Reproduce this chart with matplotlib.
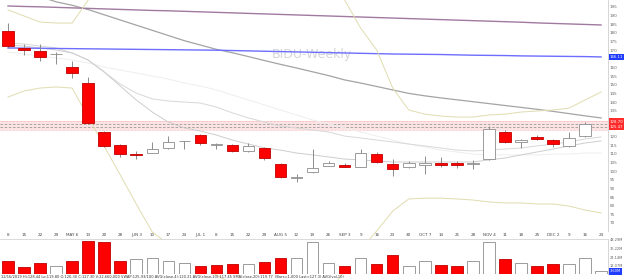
import matplotlib
matplotlib.use("Agg")
import matplotlib.pyplot as plt
from matplotlib.transforms import blended_transform_factory
import numpy as np

# weekly bars, Apr 8 2019 .. Dec 16 2019
dates = ["8", "15", "22", "29", "MAY 6", "13", "20", "28", "JUN 3", "10", "17", "24",
         "JUL 1", "8", "15", "22", "29", "AUG 5", "12", "19", "26", "SEP 3", "9", "16",
         "23", "30", "OCT 7", "14", "21", "28", "NOV 4", "11", "18", "25", "DEC 2", "9",
         "16", "23"]
opens = [181.1, 171.3, 169.5, 167.6, 160.3, 151.0, 122.7, 115.1, 109.6, 110.5, 113.4, 117.2,
         120.9, 115.1, 115.1, 111.7, 113.4, 104.1, 96.0, 99.5, 103.0, 103.6, 102.4, 109.9,
         104.1, 102.4, 103.6, 104.7, 104.7, 104.1, 107.0, 122.7, 116.9, 119.8, 118.0, 114.6,
         120.3]
highs = [185.7, 173.6, 173.6, 169.0, 163.8, 154.5, 123.2, 115.5, 111.7, 116.9, 120.4, 117.6,
         121.4, 116.3, 115.6, 116.3, 113.9, 104.6, 98.4, 112.8, 105.9, 104.7, 112.8, 111.1,
         107.0, 105.9, 108.8, 108.2, 105.9, 106.5, 126.1, 123.8, 118.4, 120.9, 118.6, 122.7,
         128.4]
lows = [171.5, 167.2, 163.8, 162.0, 153.9, 127.5, 114.0, 108.2, 107.0, 110.3, 112.8, 112.8,
        115.1, 112.8, 111.2, 111.2, 106.5, 96.0, 93.7, 99.2, 102.7, 102.2, 102.2, 104.7,
        97.2, 101.8, 98.4, 102.4, 101.8, 101.2, 106.5, 116.3, 113.4, 118.0, 114.0, 114.0,
        119.8]
closes = [172.4, 170.2, 166.1, 167.8, 156.8, 127.9, 114.6, 109.9, 109.4, 112.8, 116.9, 117.5,
          116.3, 115.3, 111.7, 114.6, 107.6, 96.6, 96.2, 101.8, 104.7, 102.4, 110.5, 105.3,
          101.2, 104.7, 104.7, 103.6, 103.6, 104.7, 124.4, 116.9, 118.0, 118.6, 115.7, 119.2,
          127.3]
volume_m = [18.5, 9.9, 15.6, 11.4, 18.5, 46.9, 45.4, 18.5, 21.3, 22.7, 18.5, 15.6, 11.4,
            12.8, 14.2, 14.2, 17.0, 22.7, 22.7, 45.4, 15.6, 11.4, 22.7, 14.2, 27.0, 11.4,
            18.5, 12.8, 11.4, 18.5, 45.4, 21.3, 15.6, 11.4, 14.2, 14.2, 22.7, 3.6]
volume_up = [False, False, False, True, False, False, False, False, True, True, True, True,
             False, False, False, True, False, False, True, True, True, False, True, False,
             False, True, True, False, False, True, True, False, True, False, False, True,
             True, True]

# overlays (one value per week, incl. Dec 23)
ma_long1 = [195.6, 195.3, 195.1, 194.8, 194.5, 194.2, 193.9, 193.6, 193.3, 193.0, 192.8, 192.5,
            192.2, 191.9, 191.6, 191.3, 191.0, 190.7, 190.4, 190.1, 189.8, 189.5, 189.2, 188.9,
            188.6, 188.3, 188.0, 187.7, 187.4, 187.1, 186.8, 186.5, 186.2, 185.8, 185.5, 185.2,
            184.9, 184.6]
ma_long2 = [171.3, 171.2, 171.1, 171.0, 170.9, 170.8, 170.7, 170.6, 170.5, 170.4, 170.3, 170.2,
            170.1, 170.0, 169.8, 169.6, 169.4, 169.2, 169.0, 168.8, 168.6, 168.4, 168.2, 168.0,
            167.8, 167.7, 167.6, 167.5, 167.3, 167.1, 167.0, 166.9, 166.7, 166.6, 166.5, 166.4,
            166.3, 166.1]
ma_52 = [210.0, 206.0, 201.0, 198.0, 196.0, 193.5, 190.5, 187.5, 184.5, 181.5, 178.5, 175.5,
         173.0, 170.5, 168.5, 166.3, 164.0, 161.8, 159.7, 157.5, 155.3, 152.8, 151.0, 149.0,
         147.0, 145.0, 143.6, 142.4, 141.3, 140.2, 139.1, 138.0, 136.9, 135.8, 134.6, 133.3,
         132.0, 130.8]
ma_fast = [173.0, 172.4, 171.3, 170.1, 168.4, 164.3, 157.4, 149.3, 141.2, 134.2, 128.4, 125.0,
           123.2, 120.9, 118.0, 115.7, 113.4, 112.2, 110.5, 109.4, 108.2, 107.0, 106.5, 105.9,
           105.3, 105.3, 105.3, 105.3, 105.3, 105.3, 106.5, 107.6, 109.4, 111.1, 112.8, 114.6,
           116.3, 117.5]
ma_mid = [174.2, 173.6, 172.4, 171.3, 168.4, 164.3, 157.4, 150.4, 145.2, 141.8, 140.6, 140.0,
          139.4, 137.1, 133.7, 130.8, 128.4, 126.1, 125.0, 123.8, 122.7, 120.3, 119.2, 118.0,
          116.9, 115.7, 114.6, 113.4, 112.2, 111.7, 112.2, 112.8, 113.4, 114.6, 115.7, 116.9,
          118.6, 119.8]
ma_slow = [169.0, 167.8, 166.6, 165.5, 164.3, 162.6, 160.3, 158.5, 156.8, 155.1, 153.3, 151.0,
           149.3, 147.0, 144.1, 141.2, 138.3, 135.4, 132.5, 129.6, 127.3, 125.0, 122.7, 120.3,
           118.0, 115.7, 114.0, 112.2, 111.1, 109.9, 109.4, 109.4, 109.4, 109.4, 109.9, 109.9,
           110.5, 110.5]
band_upper = [193.3, 189.8, 186.3, 185.7, 185.7, 199.0, 222.0, 234.0, 242.0, 248.0, 251.0,
              252.0, 252.0, 251.0, 248.0, 245.0, 240.0, 234.0, 228.0, 219.0, 211.0, 199.0,
              182.8, 170.1, 148.1, 135.4, 133.0, 131.9, 131.3, 131.3, 132.5, 133.0, 134.2,
              134.8, 135.4, 136.5, 141.2, 145.8]
band_lower = [142.9, 146.4, 148.1, 148.7, 148.1, 131.3, 114.5, 97.8, 81.0, 64.8, 57.8, 52.0,
              45.7, 39.9, 34.7, 31.2, 28.3, 26.6, 25.4, 26.6, 30.1, 42.2, 54.4, 65.4, 76.9,
              83.9, 84.4, 84.4, 83.9, 83.3, 82.2, 81.6, 81.6, 81.0, 81.0, 79.8, 77.5, 75.8]

zone_low, zone_high = 123.8, 129.0
level_a, level_b = 127.3, 125.6
price_ticks = list(range(70, 200, 5))
vol_ticks = [12.07, 24.14, 36.22, 48.29]
last_line_label = "166.11"
level_labels = ["128.70", "125.47"]
vol_label = "3.60M"
info_text = ("12/16/2019 Hi:128.44 Lo:119.80 O:120.30 C:127.30 V:22,660,000 VWAP:125.93/100 "
             "AVG(close,4):120.21 AVG(close,10):117.45 SMA(close,20):119.77  (Bars=1,000 Last=127.3) AVG(vol,10)")

RED = "#ff0000"
EDGE = "#8c8c8c"
W, H = 624, 280

fig = plt.figure(figsize=(W / 100, H / 100), dpi=100)
ax = fig.add_axes([0, 1 - 231 / H, 608 / W, 231 / H])
axv = fig.add_axes([0, 1 - 274 / H, 608 / W, 35 / H])

n = len(closes)
x = np.arange(n)
xv = np.arange(len(volume_m))

ax.axhspan(zone_low, zone_high, color="#fde3e3", lw=0, zorder=0)
for yy in (zone_low, zone_high):
    ax.axhline(yy, color="#f5a5a5", lw=0.5, ls=(0, (1, 1)), zorder=1)
for yy in (level_a, level_b):
    ax.axhline(yy, color="#9a9a9a", lw=0.6, ls=(0, (3, 2)), zorder=1)

xl = np.arange(len(ma_long1))
ax.plot(xl, ma_slow, color="#eeeeee", lw=0.7, zorder=2)
ax.plot(xl, ma_mid, color="#d8d8d8", lw=0.7, zorder=2)
ax.plot(xl, ma_fast, color="#cecece", lw=0.7, zorder=2)
ax.plot(xl, ma_52, color="#a4a4a4", lw=0.9, zorder=2)
ax.plot(xl, ma_long2, color="#6d6dff", lw=1.0, zorder=2)
ax.plot(xl, ma_long1, color="#a07aa0", lw=1.0, zorder=2)
ax.plot(xl, band_upper, color="#e0dcb0", lw=0.7, zorder=2, clip_on=False)
ax.plot(xl, band_lower, color="#e0dcb0", lw=0.7, zorder=2, clip_on=False)

# candles
ax.vlines(x, lows, highs, color=EDGE, lw=0.7, zorder=3)
for i in range(n):
    up = closes[i] >= opens[i]
    bottom = min(opens[i], closes[i])
    height = max(abs(closes[i] - opens[i]), 0.35)
    ax.bar(x[i], height, bottom=bottom, width=0.72,
           color="white" if up else RED,
           edgecolor=EDGE if up else "#c00000", lw=0.6, zorder=4)

ax.set_xlim(-0.5, 37.43)
ax.set_ylim(65.37, 199.05)
ax.set_xticks(np.arange(len(dates)))
ax.set_xticklabels(dates)
ax.set_yticks(price_ticks)
ax.set_yticklabels([str(t) for t in price_ticks])
ax.yaxis.tick_right()
ax.tick_params(axis="y", length=0, pad=1.5, labelsize=3, labelcolor="#666666")
ax.tick_params(axis="x", length=0, pad=1.2, labelsize=3, labelcolor="#444444")
for s in ("top", "left", "bottom"):
    ax.spines[s].set_visible(False)
ax.spines["right"].set_color("#cfcfcf")
ax.spines["right"].set_linewidth(0.6)

ax.text(0.513, 0.762, "BIDU-Weekly", transform=ax.transAxes, fontsize=9,
        color="#d6d6d6", ha="center", va="center", zorder=1)

tr = blended_transform_factory(ax.transAxes, ax.transData)
box_kw = dict(transform=tr, fontsize=2.8, color="white", va="center", ha="left", zorder=6)
ax.text(1.003, ma_long2[-1], last_line_label,
        bbox=dict(boxstyle="square,pad=0.3", fc="#1f3cff", ec="none"), **box_kw)
ax.text(1.003, 128.7, level_labels[0],
        bbox=dict(boxstyle="square,pad=0.3", fc="#ff2a2a", ec="none"), **box_kw)
ax.text(1.003, 125.5, level_labels[1],
        bbox=dict(boxstyle="square,pad=0.3", fc="#ff2a2a", ec="none"), **box_kw)

# volume
for i in range(len(volume_m)):
    axv.bar(xv[i], volume_m[i], width=0.72,
            color="white" if volume_up[i] else RED,
            edgecolor=EDGE if volume_up[i] else "#c00000", lw=0.6)
axv.set_xlim(-0.5, 37.43)
axv.set_ylim(0, 49.71)
axv.set_xticks([])
axv.set_yticks(vol_ticks)
axv.set_yticklabels([f"{v:.2f}M" for v in vol_ticks])
axv.yaxis.tick_right()
axv.tick_params(axis="y", length=0, pad=1.2, labelsize=2.6, labelcolor="#666666")
for s in ("left", "bottom"):
    axv.spines[s].set_visible(False)
axv.spines["top"].set_color("#d5d5d5")
axv.spines["top"].set_linewidth(0.6)
axv.spines["right"].set_color("#cfcfcf")
axv.spines["right"].set_linewidth(0.6)
trv = blended_transform_factory(axv.transAxes, axv.transData)
axv.text(1.003, volume_m[-1], vol_label, transform=trv, fontsize=2.6, color="white",
         va="center", ha="left", zorder=6,
         bbox=dict(boxstyle="square,pad=0.3", fc="#1f3cff", ec="none"))

fig.text(0.002, 0.004, info_text, fontsize=2.6, color="#333333", ha="left", va="bottom")

fig.savefig("out.png", dpi=100)
